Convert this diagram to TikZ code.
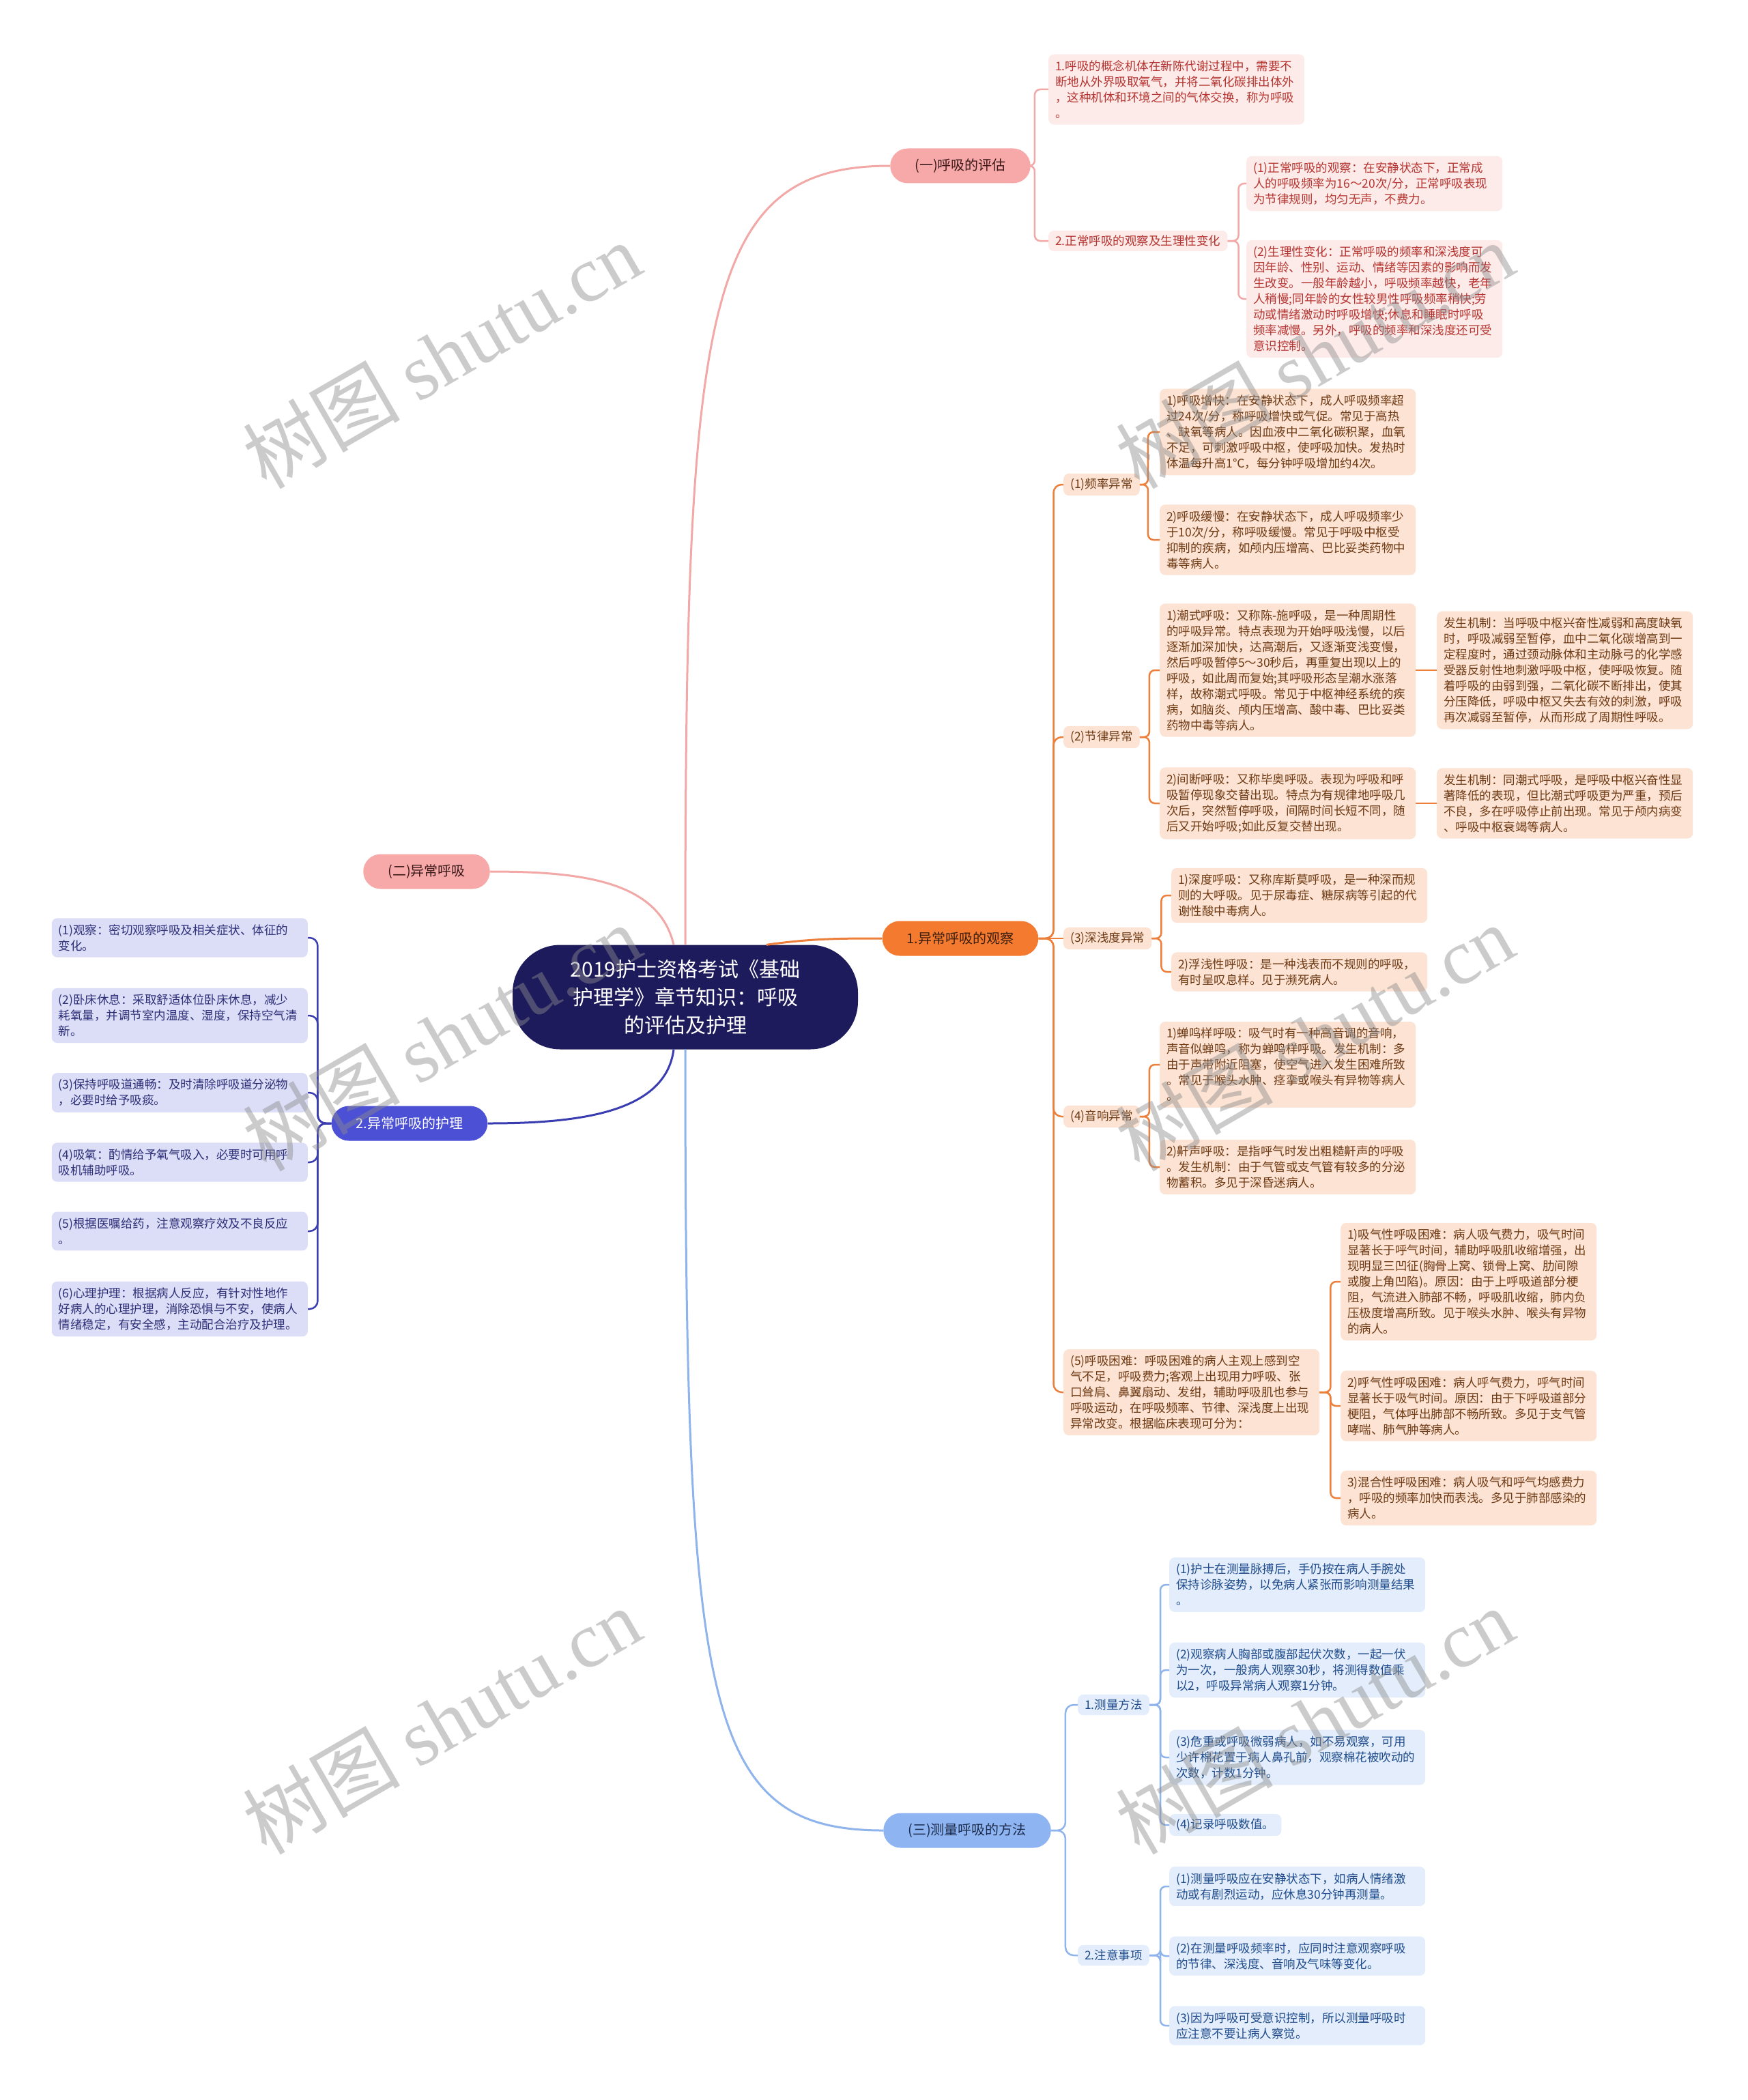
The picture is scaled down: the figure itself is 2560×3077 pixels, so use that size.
\documentclass[tikz,border=0pt]{standalone}
\usepackage{fontspec}
\newfontfamily\cjk{Noto Sans CJK SC}
\newfontfamily\wmfont{Liberation Serif}

\definecolor{navy}{HTML}{1E1B5C}
\definecolor{pinkfill}{HTML}{F6A9A8}
\definecolor{pinkdark}{HTML}{3D1A1A}
\definecolor{pinkline}{HTML}{F2A8A6}
\definecolor{pinkpale}{HTML}{FDEBEA}
\definecolor{pinktext}{HTML}{B5342F}
\definecolor{orangefill}{HTML}{F47A30}
\definecolor{orangedark}{HTML}{3A1E0E}
\definecolor{orangeline}{HTML}{EE7F3A}
\definecolor{orangepale}{HTML}{FDE3D3}
\definecolor{orangetext}{HTML}{6E3A14}
\definecolor{violetfill}{HTML}{4B50D4}
\definecolor{violetline}{HTML}{3A3DB0}
\definecolor{violetpale}{HTML}{DCDDF7}
\definecolor{violettext}{HTML}{2D2F77}
\definecolor{bluefill}{HTML}{8EB4F2}
\definecolor{bluedark}{HTML}{1B2B4B}
\definecolor{blueline}{HTML}{8FB4EC}
\definecolor{bluepale}{HTML}{E3EDFB}
\definecolor{bluetext}{HTML}{1F4C8C}

\tikzset{
 every node/.style={font=\cjk},
 centre/.style={fill=navy, text=white, rounded corners=70pt, minimum width=506pt, minimum height=153pt,
   text width=360pt, align=center, font=\cjk\fontsize{30}{41}\selectfont},
 pill/.style={rounded corners=25.5pt, minimum height=51pt, inner xsep=36pt, inner ysep=0pt,
   font=\cjk\fontsize{20}{24}\selectfont},
 sub/.style={rounded corners=8pt, inner xsep=10pt, inner ysep=7pt, font=\cjk\fontsize{17.5}{23}\selectfont},
 leaf/.style={rounded corners=8pt, text width=355pt, align=left, inner xsep=10pt, inner ysep=9pt,
   font=\cjk\fontsize{17.5}{23}\selectfont},
 pinksub/.style={sub, fill=pinkpale, text=pinktext, anchor=west},
 pinkleaf/.style={leaf, fill=pinkpale, text=pinktext, anchor=west},
 orangesub/.style={sub, fill=orangepale, text=orangetext, anchor=west},
 orangeleaf/.style={leaf, fill=orangepale, text=orangetext, anchor=west},
 violetleaf/.style={leaf, fill=violetpale, text=violettext, anchor=east},
 bluesub/.style={sub, fill=bluepale, text=bluetext, anchor=west},
 blueleaf/.style={leaf, fill=bluepale, text=bluetext, anchor=west},
 mainlink/.style={line width=3pt},
 sublink/.style={line width=2.5pt, rounded corners=8pt},
 wmark/.style={text=black!45, opacity=0.45, rotate=30, font=\cjk\fontsize{115}{115}\selectfont}
}

\begin{document}
\begin{tikzpicture}[x=1pt,y=-1pt]
\useasboundingbox (0,0) rectangle (2560,3077);
\fill[white] (0,0) rectangle (2560,3077);

%center:
\node[centre] (ctr) at (1004,1461) {2019护士资格考试《基础\\护理学》章节知识：呼吸\\的评估及护理};

%main branches:
\node[pill, fill=pinkfill, text=pinkdark] (eval) at (1407,243) {(一)呼吸的评估};
\node[pill, fill=pinkfill, text=pinkdark] (abn) at (625,1277) {(二)异常呼吸};
\node[pill, fill=orangefill, text=orangedark] (obs) at (1407,1375) {1.异常呼吸的观察};
\node[pill, fill=violetfill, text=white] (care) at (600,1646) {2.异常呼吸的护理};
\node[pill, fill=bluefill, text=bluedark] (meas) at (1417,2682) {(三)测量呼吸的方法};

\draw[mainlink, pinkline] (ctr.north) .. controls (1004,450) and (1030,243) .. (eval.west);
\draw[mainlink, pinkline] ([xshift=-17pt]ctr.north) .. controls (965,1290) and (850,1277) .. (abn.east);
\draw[mainlink, orangeline] ([xshift=119pt]ctr.north) .. controls (1190,1375) and (1230,1375) .. (obs.west);
\draw[mainlink, violetline] ([xshift=-17pt]ctr.south) .. controls (975,1630) and (850,1646) .. (care.east);
\draw[mainlink, blueline] (ctr.south) .. controls (1004,2500) and (1030,2682) .. (meas.west);

%(一) branch:
\node[pinkleaf] (e1) at (1536,131) {1.呼吸的概念机体在新陈代谢过程中，需要不\\断地从外界吸取氧气，并将二氧化碳排出体外\\，这种机体和环境之间的气体交换，称为呼吸\\。};
\node[pinksub] (e2) at (1536,353) {2.正常呼吸的观察及生理性变化};
\node[pinkleaf] (e2a) at (1826,269) {(1)正常呼吸的观察：在安静状态下，正常成\\人的呼吸频率为16～20次/分，正常呼吸表现\\为节律规则，均匀无声，不费力。};
\node[pinkleaf] (e2b) at (1826,438) {(2)生理性变化：正常呼吸的频率和深浅度可\\因年龄、性别、运动、情绪等因素的影响而发\\生改变。一般年龄越小，呼吸频率越快，老年\\人稍慢;同年龄的女性较男性呼吸频率稍快;劳\\动或情绪激动时呼吸增快;休息和睡眠时呼吸\\频率减慢。另外，呼吸的频率和深浅度还可受\\意识控制。};
\foreach \c in {e1,e2} \draw[sublink, pinkline] (eval.east) -- ++(6,0) |- (\c.west);
\foreach \c in {e2a,e2b} \draw[sublink, pinkline] (e2.east) -- ++(16,0) |- (\c.west);

%1. branch:
\node[orangesub] (o1) at (1558,710) {(1)频率异常};
\node[orangesub] (o2) at (1558,1080) {(2)节律异常};
\node[orangesub] (o3) at (1558,1375) {(3)深浅度异常};
\node[orangesub] (o4) at (1558,1636) {(4)音响异常};
\node[orangeleaf] (o5) at (1558,2040) {(5)呼吸困难：呼吸困难的病人主观上感到空\\气不足，呼吸费力;客观上出现用力呼吸、张\\口耸肩、鼻翼扇动、发绀，辅助呼吸肌也参与\\呼吸运动，在呼吸频率、节律、深浅度上出现\\异常改变。根据临床表现可分为：};

\node[orangeleaf] (o1a) at (1699,633) {1)呼吸增快：在安静状态下，成人呼吸频率超\\过24次/分，称呼吸增快或气促。常见于高热\\、缺氧等病人。因血液中二氧化碳积聚，血氧\\不足，可刺激呼吸中枢，使呼吸加快。发热时\\体温每升高1℃，每分钟呼吸增加约4次。};
\node[orangeleaf] (o1b) at (1699,791) {2)呼吸缓慢：在安静状态下，成人呼吸频率少\\于10次/分，称呼吸缓慢。常见于呼吸中枢受\\抑制的疾病，如颅内压增高、巴比妥类药物中\\毒等病人。};
\node[orangeleaf] (o2a) at (1699,982) {1)潮式呼吸：又称陈-施呼吸，是一种周期性\\的呼吸异常。特点表现为开始呼吸浅慢，以后\\逐渐加深加快，达高潮后，又逐渐变浅变慢，\\然后呼吸暂停5～30秒后，再重复出现以上的\\呼吸，如此周而复始;其呼吸形态呈潮水涨落\\样，故称潮式呼吸。常见于中枢神经系统的疾\\病，如脑炎、颅内压增高、酸中毒、巴比妥类\\药物中毒等病人。};
\node[orangeleaf] (o2am) at (2105,982) {发生机制：当呼吸中枢兴奋性减弱和高度缺氧\\时，呼吸减弱至暂停，血中二氧化碳增高到一\\定程度时，通过颈动脉体和主动脉弓的化学感\\受器反射性地刺激呼吸中枢，使呼吸恢复。随\\着呼吸的由弱到强，二氧化碳不断排出，使其\\分压降低，呼吸中枢又失去有效的刺激，呼吸\\再次减弱至暂停，从而形成了周期性呼吸。};
\node[orangeleaf] (o2b) at (1699,1177) {2)间断呼吸：又称毕奥呼吸。表现为呼吸和呼\\吸暂停现象交替出现。特点为有规律地呼吸几\\次后，突然暂停呼吸，间隔时间长短不同，随\\后又开始呼吸;如此反复交替出现。};
\node[orangeleaf] (o2bm) at (2105,1177) {发生机制：同潮式呼吸，是呼吸中枢兴奋性显\\著降低的表现，但比潮式呼吸更为严重，预后\\不良，多在呼吸停止前出现。常见于颅内病变\\、呼吸中枢衰竭等病人。};
\node[orangeleaf] (o3a) at (1716,1312) {1)深度呼吸：又称库斯莫呼吸，是一种深而规\\则的大呼吸。见于尿毒症、糖尿病等引起的代\\谢性酸中毒病人。};
\node[orangeleaf] (o3b) at (1716,1424) {2)浮浅性呼吸：是一种浅表而不规则的呼吸，\\有时呈叹息样。见于濒死病人。};
\node[orangeleaf] (o4a) at (1699,1560) {1)蝉鸣样呼吸：吸气时有一种高音调的音响，\\声音似蝉鸣，称为蝉鸣样呼吸。发生机制：多\\由于声带附近阻塞，使空气进入发生困难所致\\。常见于喉头水肿、痉挛或喉头有异物等病人\\。};
\node[orangeleaf] (o4b) at (1699,1710) {2)鼾声呼吸：是指呼气时发出粗糙鼾声的呼吸\\。发生机制：由于气管或支气管有较多的分泌\\物蓄积。多见于深昏迷病人。};
\node[orangeleaf] (o5a) at (1964,1878) {1)吸气性呼吸困难：病人吸气费力，吸气时间\\显著长于呼气时间，辅助呼吸肌收缩增强，出\\现明显三凹征(胸骨上窝、锁骨上窝、肋间隙\\或腹上角凹陷)。原因：由于上呼吸道部分梗\\阻，气流进入肺部不畅，呼吸肌收缩，肺内负\\压极度增高所致。见于喉头水肿、喉头有异物\\的病人。};
\node[orangeleaf] (o5b) at (1964,2060) {2)呼气性呼吸困难：病人呼气费力，呼气时间\\显著长于吸气时间。原因：由于下呼吸道部分\\梗阻，气体呼出肺部不畅所致。多见于支气管\\哮喘、肺气肿等病人。};
\node[orangeleaf] (o5c) at (1964,2195) {3)混合性呼吸困难：病人吸气和呼气均感费力\\，呼吸的频率加快而表浅。多见于肺部感染的\\病人。};

\foreach \c in {o1,o2,o4,o5} \draw[sublink, orangeline, rounded corners=12pt] (obs.east) -- ++(22,0) |- (\c.west);
\draw[sublink, orangeline] (obs.east) -- (o3.west);
\foreach \c in {o1a,o1b} \draw[sublink, orangeline] (o1.east) -- ++(12,0) |- (\c.west);
\foreach \c in {o2a,o2b} \draw[sublink, orangeline] (o2.east) -- ++(14,0) |- (\c.west);
\foreach \c in {o3a,o3b} \draw[sublink, orangeline] (o3.east) -- ++(14,0) |- (\c.west);
\foreach \c in {o4a,o4b} \draw[sublink, orangeline] (o4.east) -- ++(14,0) |- (\c.west);
\foreach \c in {o5a,o5b,o5c} \draw[sublink, orangeline] (o5.east) -- ++(16,0) |- (\c.west);
\draw[sublink, orangeline] (o2a.east) -- (o2am.west);
\draw[sublink, orangeline] (o2b.east) -- (o2bm.west);

%2. branch (left):
\node[violetleaf] (c1) at (451,1374) {(1)观察：密切观察呼吸及相关症状、体征的\\变化。};
\node[violetleaf] (c2) at (451,1488) {(2)卧床休息：采取舒适体位卧床休息，减少\\耗氧量，并调节室内温度、湿度，保持空气清\\新。};
\node[violetleaf] (c3) at (451,1601) {(3)保持呼吸道通畅：及时清除呼吸道分泌物\\，必要时给予吸痰。};
\node[violetleaf] (c4) at (451,1703) {(4)吸氧：酌情给予氧气吸入，必要时可用呼\\吸机辅助呼吸。};
\node[violetleaf] (c5) at (451,1804) {(5)根据医嘱给药，注意观察疗效及不良反应\\。};
\node[violetleaf] (c6) at (451,1918) {(6)心理护理：根据病人反应，有针对性地作\\好病人的心理护理，消除恐惧与不安，使病人\\情绪稳定，有安全感，主动配合治疗及护理。};
\foreach \c in {c1,c2,c3,c4,c5,c6} \draw[sublink, violetline, rounded corners=12pt] (care.west) -- ++(-20,0) |- (\c.east);

%(三) branch:
\node[bluesub] (m1) at (1579,2498) {1.测量方法};
\node[bluesub] (m2) at (1579,2865) {2.注意事项};
\node[blueleaf] (m1a) at (1713,2322) {(1)护士在测量脉搏后，手仍按在病人手腕处\\保持诊脉姿势，以免病人紧张而影响测量结果\\。};
\node[blueleaf] (m1b) at (1713,2447) {(2)观察病人胸部或腹部起伏次数，一起一伏\\为一次，一般病人观察30秒，将测得数值乘\\以2，呼吸异常病人观察1分钟。};
\node[blueleaf] (m1c) at (1713,2575) {(3)危重或呼吸微弱病人，如不易观察，可用\\少许棉花置于病人鼻孔前，观察棉花被吹动的\\次数，计数1分钟。};
\node[bluesub] (m1d) at (1713,2674) {(4)记录呼吸数值。};
\node[blueleaf] (m2a) at (1713,2764) {(1)测量呼吸应在安静状态下，如病人情绪激\\动或有剧烈运动，应休息30分钟再测量。};
\node[blueleaf] (m2b) at (1713,2866) {(2)在测量呼吸频率时，应同时注意观察呼吸\\的节律、深浅度、音响及气味等变化。};
\node[blueleaf] (m2c) at (1713,2968) {(3)因为呼吸可受意识控制，所以测量呼吸时\\应注意不要让病人察觉。};
\foreach \c in {m1,m2} \draw[sublink, blueline, rounded corners=12pt] (meas.east) -- ++(21,0) |- (\c.west);
\foreach \c in {m1a,m1b,m1c,m1d} \draw[sublink, blueline] (m1.east) -- ++(16,0) |- (\c.west);
\foreach \c in {m2a,m2b,m2c} \draw[sublink, blueline] (m2.east) -- ++(16,0) |- (\c.west);

%watermark:
\foreach \wx/\wy [count=\i] in {647/520, 1926/520, 647/1520, 1926/1520, 647/2521, 1926/2521}
  \node[wmark] (wm\i) at (\wx,\wy) {树图 {\wmfont shutu.cn}};
\end{tikzpicture}
\end{document}
